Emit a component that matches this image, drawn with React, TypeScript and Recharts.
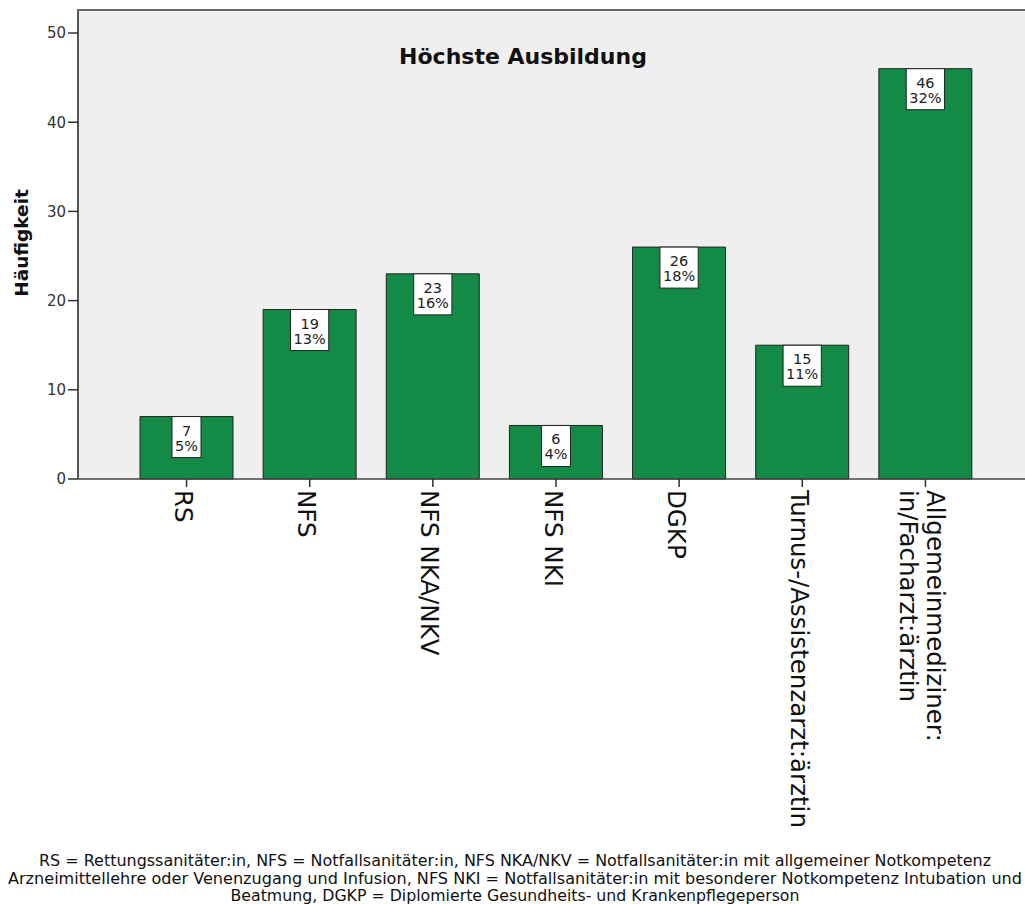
import React from 'react';
import { BarChart, Bar, XAxis, YAxis, CartesianGrid, LabelList } from 'recharts';

// Highest qualification of respondents (counts and share of 142)
const categories = [
  'RS',
  'NFS',
  'NFS NKA/NKV',
  'NFS NKI',
  'DGKP',
  'Turnus-/Assistenzarzt:ärztin',
  'Allgemeinmediziner:in/Facharzt:ärztin',
];
const counts = [7, 19, 23, 6, 26, 15, 46];
const percentLabels = ['5%', '13%', '16%', '4%', '18%', '11%', '32%'];
const yTicks = [0, 10, 20, 30, 40, 50];
const yMax = 52.58;

const chartTitle = 'Höchste Ausbildung';
const yAxisTitle = 'Häufigkeit';
const footnoteLines = [
  'RS = Rettungssanitäter:in, NFS = Notfallsanitäter:in, NFS NKA/NKV = Notfallsanitäter:in mit allgemeiner Notkompetenz',
  'Arzneimittellehre oder Venenzugang und Infusion, NFS NKI = Notfallsanitäter:in mit besonderer Notkompetenz Intubation und',
  'Beatmung, DGKP = Diplomierte Gesundheits- und Krankenpflegeperson',
];

const data = categories.map((category, i) => ({
  category,
  count: counts[i],
  pct: percentLabels[i],
}));

const FONT = '"DejaVu Sans", Verdana, sans-serif';
const LABEL_FONT_SIZE = 14.5;

let measureCtx: CanvasRenderingContext2D | null = null;
function textWidth(s: string, font: string): number {
  if (!measureCtx) measureCtx = document.createElement('canvas').getContext('2d');
  if (!measureCtx) return s.length * 8;
  measureCtx.font = font;
  return measureCtx.measureText(s).width;
}

// White box with count and percentage at the top of each bar
const ValueBox = (props: any) => {
  const { x, y, width, index } = props;
  const cx = x + width / 2;
  const top = y;
  const l1 = String(counts[index]);
  const l2 = percentLabels[index];
  const f = `${LABEL_FONT_SIZE}px ${FONT}`;
  const w = Math.max(textWidth(l1, f), textWidth(l2, f)) + 6;
  return (
    <g>
      <rect x={cx - w / 2} y={top} width={w} height={41} fill="#ffffff" stroke="#222" strokeWidth={1} />
      <text x={cx} y={top + 19} textAnchor="middle" fontFamily={FONT} fontSize={LABEL_FONT_SIZE} fill="#222">
        {l1}
      </text>
      <text x={cx} y={top + 34} textAnchor="middle" fontFamily={FONT} fontSize={LABEL_FONT_SIZE} fill="#222">
        {l2}
      </text>
    </g>
  );
};

function splitLabel(label: string): string[] {
  if (label.length <= 30) return [label];
  const idx = label.indexOf(':');
  if (idx < 0) return [label];
  return [label.slice(0, idx + 1), label.slice(idx + 1)];
}

// Category names rotated to read top to bottom
const CategoryTick = (props: any) => {
  const { x, y, payload } = props;
  const lines = splitLabel(String(payload.value));
  const lineGap = 27;
  const n = lines.length;
  return (
    <g>
      {lines.map((line, i) => {
        const bx = x - 11.5 + ((n - 1) / 2) * lineGap - i * lineGap;
        return (
          <text
            key={i}
            transform={`translate(${bx},${y}) rotate(90)`}
            textAnchor="start"
            fontFamily={FONT}
            fontSize={24.5}
            fill="#111"
          >
            {line}
          </text>
        );
      })}
    </g>
  );
};

export default function App() {
  return (
    <div style={{ position: 'absolute', left: 0, top: 0, width: 1025, height: 904, overflow: 'hidden', background: '#fff' }}>
      <BarChart
        width={1025}
        height={904}
        data={data}
        margin={{ top: 10, right: 0, bottom: 0, left: 0 }}
      >
        <CartesianGrid fill="#efefef" horizontal={false} vertical={false} />
        <XAxis
          dataKey="category"
          type="category"
          interval={0}
          height={425}
          padding={{ left: 47, right: 38 }}
          tickSize={8}
          tickMargin={3}
          axisLine={{ stroke: '#444', strokeWidth: 1.5 }}
          tickLine={{ stroke: '#333', strokeWidth: 1.5 }}
          tick={<CategoryTick />}
        />
        <YAxis
          type="number"
          domain={[0, yMax]}
          ticks={yTicks}
          width={78}
          tickSize={10}
          tickMargin={2}
          axisLine={{ stroke: '#555', strokeWidth: 2 }}
          tickLine={{ stroke: '#333', strokeWidth: 1.5 }}
          tick={{ fontFamily: FONT, fontSize: 15, fill: '#333' }}
        />
        <Bar dataKey="count" fill="#138b46" stroke="#222" strokeWidth={1} barSize={93} isAnimationActive={false}>
          <LabelList dataKey="count" content={<ValueBox />} />
        </Bar>
      </BarChart>
      <svg
        width={1025}
        height={904}
        style={{ position: 'absolute', left: 0, top: 0, pointerEvents: 'none' }}
      >
        <line x1={77} y1={10} x2={1025} y2={10} stroke="#666" strokeWidth={2} />
        <text
          x={523}
          y={64}
          textAnchor="middle"
          fontFamily={FONT}
          fontWeight="bold"
          fontSize={22}
          fill="#111"
        >
          {chartTitle}
        </text>
        <text
          transform="translate(28,243) rotate(-90)"
          textAnchor="middle"
          fontFamily={FONT}
          fontWeight="bold"
          fontSize={18.5}
          fill="#111"
        >
          {yAxisTitle}
        </text>
        {footnoteLines.map((line, i) => (
          <text
            key={i}
            x={515}
            y={866 + i * 17.5}
            textAnchor="middle"
            fontFamily={FONT}
            fontSize={15.5}
            fill="#111"
            textLength={[952, 1014, 569][i]}
            lengthAdjust="spacingAndGlyphs"
          >
            {line}
          </text>
        ))}
      </svg>
    </div>
  );
}
